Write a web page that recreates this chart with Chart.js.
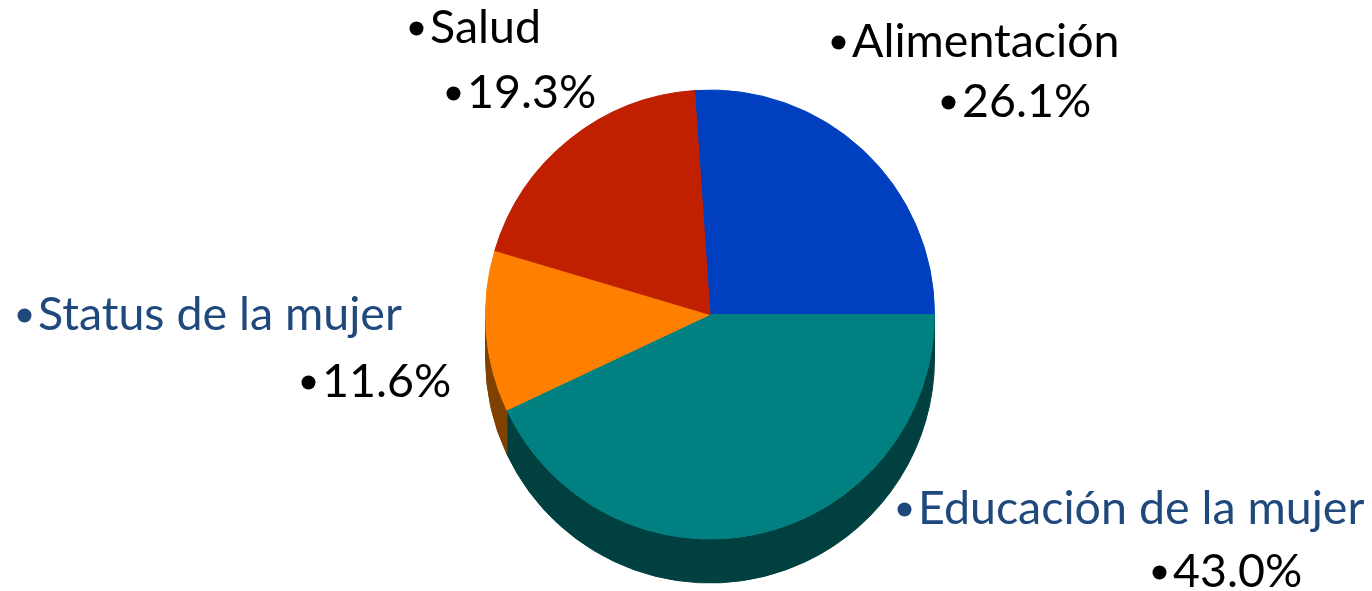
<!DOCTYPE html>
<html>
<head>
<meta charset="utf-8">
<script src="https://cdn.jsdelivr.net/npm/chart.js@4"></script>
<style>
  html, body { margin: 0; padding: 0; background: #ffffff; }
  #wrap { width: 1372px; height: 591px; }
</style>
</head>
<body>
<div id="wrap"><canvas id="c" width="1372" height="591"></canvas></div>
<script>
// ---- data ----
const categories = ['Alimentación', 'Educación de la mujer', 'Status de la mujer', 'Salud'];
const values = [26.1, 43.0, 11.6, 19.3];
const topColors = ['#0040C0', '#008080', '#FF8000', '#C02000'];
const sideColors = ['#002A80', '#004040', '#804000', '#801500'];
const labelColors = ['#000000', '#1F497D', '#1F497D', '#000000'];

// ---- layout constants (pixels) ----
const DEPTH = 44;
// [name x, name baseline, value x, value baseline]
const labelPos = [
  [852, 57, 962, 117],
  [918, 524, 1173, 587],
  [38, 330, 322, 397],
  [430, 43, 467, 108]
];
const targetWidths = [268, 444, 369, 108];
const FONT = 'Lato, "Open Sans", sans-serif';

const sidePlugin = {
  id: 'side3d',
  beforeDatasetsDraw(chart) {
    const ctx = chart.ctx;
    const meta = chart.getDatasetMeta(0);
    meta.data.forEach((arc, i) => {
      const cx = arc.x, cy = arc.y, r = arc.outerRadius;
      let s = arc.startAngle, e = arc.endAngle;
      for (let k = -1; k <= 1; k++) {
        const lo = Math.max(s, k * 2 * Math.PI);
        const hi = Math.min(e, k * 2 * Math.PI + Math.PI);
        if (hi > lo) {
          ctx.save();
          ctx.beginPath();
          ctx.arc(cx, cy, r, lo, hi, false);
          ctx.lineTo(cx + r * Math.cos(hi), cy + DEPTH + r * Math.sin(hi));
          ctx.arc(cx, cy + DEPTH, r, hi, lo, true);
          ctx.closePath();
          ctx.fillStyle = sideColors[i];
          ctx.strokeStyle = sideColors[i];
          ctx.lineWidth = 1;
          ctx.fill();
          ctx.stroke();
          ctx.restore();
        }
      }
    });
  }
};

const labelPlugin = {
  id: 'labels3d',
  afterDraw(chart) {
    const ctx = chart.ctx;
    ctx.save();
    // fit font size to observed text widths
    ctx.font = '100px ' + FONT;
    let measured = 0, target = 0;
    categories.forEach((c, i) => { measured += ctx.measureText(c).width; target += targetWidths[i]; });
    const size = 100 * target / measured;
    ctx.font = size.toFixed(2) + 'px ' + FONT;
    ctx.textBaseline = 'alphabetic';
    ctx.textAlign = 'left';
    const bullet = (x, y, color) => {
      ctx.beginPath();
      ctx.arc(x - 13.5, y - 14.5, 7, 0, Math.PI * 2);
      ctx.fillStyle = color;
      ctx.fill();
    };
    categories.forEach((c, i) => {
      const p = labelPos[i];
      bullet(p[0], p[1], labelColors[i]);
      ctx.fillStyle = labelColors[i];
      ctx.fillText(c, p[0], p[1]);
      bullet(p[2], p[3], '#000000');
      ctx.fillStyle = '#000000';
      ctx.fillText(values[i].toFixed(1) + '%', p[2], p[3]);
    });
    ctx.restore();
  }
};

new Chart(document.getElementById('c'), {
  type: 'pie',
  data: {
    labels: categories,
    datasets: [{
      data: values,
      backgroundColor: topColors,
      borderColor: topColors,
      borderWidth: 1
    }]
  },
  options: {
    responsive: false,
    animation: false,
    rotation: -(values[0] * 3.6) + 90,
    layout: { padding: { left: 485, right: 437, top: 89, bottom: 51 } },
    plugins: { legend: { display: false }, tooltip: { enabled: false } }
  },
  plugins: [sidePlugin, labelPlugin]
});
</script>
</body>
</html>
